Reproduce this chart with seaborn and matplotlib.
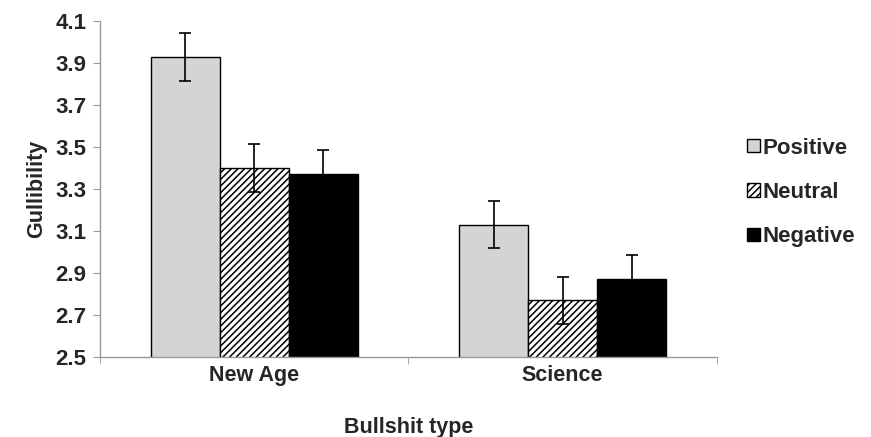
import matplotlib
matplotlib.use("Agg")
import matplotlib.pyplot as plt
import pandas as pd
import seaborn as sns

# values
bullshit_types = ["New Age", "Science"]
moods = ["Positive", "Neutral", "Negative"]
gullibility_new_age = [3.93, 3.40, 3.37]
gullibility_science = [3.13, 2.77, 2.87]
sem_new_age = [0.115, 0.115, 0.115]
sem_science = [0.113, 0.113, 0.115]
y_ticks = [2.5, 2.7, 2.9, 3.1, 3.3, 3.5, 3.7, 3.9, 4.1]

df = pd.DataFrame({
    "type": [bullshit_types[0]] * 3 + [bullshit_types[1]] * 3,
    "mood": moods * 2,
    "gullibility": gullibility_new_age + gullibility_science,
    "sem": sem_new_age + sem_science,
})

sns.set_style("white")
plt.rcParams["font.family"] = ["Liberation Sans", "DejaVu Sans"]
plt.rcParams["font.weight"] = "bold"
plt.rcParams["hatch.linewidth"] = 1.1

fig = plt.figure(figsize=(8.71, 4.37), dpi=100)
ax = fig.add_axes([0.115, 0.183, 0.708, 0.769])

colors = {"Positive": "#d4d4d4", "Neutral": "white", "Negative": "black"}
sns.barplot(data=df, x="type", y="gullibility", hue="mood", hue_order=moods,
            order=bullshit_types, palette=colors, width=0.67, errorbar=None,
            edgecolor="black", linewidth=1.0, legend=False, ax=ax)

# hatch the neutral bars
for bar in ax.containers[1]:
    bar.set_hatch("/////")

# error bars at the bar centres
for cont, mood in zip(ax.containers, moods):
    sub = df[df.mood == mood].set_index("type").loc[bullshit_types]
    xs = [b.get_x() + b.get_width() / 2 for b in cont]
    ax.errorbar(xs, sub.gullibility, yerr=sub["sem"], fmt="none",
                ecolor="black", elinewidth=1.2, capsize=4.5, capthick=1.2)

ax.set_ylim(2.5, 4.1)
ax.set_xlim(-0.5, 1.5)
ax.set_yticks(y_ticks)
ax.set_yticklabels([f"{v:.1f}" for v in y_ticks])
ax.set_xticks([-0.5, 0.5, 1.5], minor=True)
ax.tick_params(axis="x", which="major", length=0, pad=6, labelsize=15.5)
ax.tick_params(axis="x", which="minor", length=5, color="#999999", direction="out", bottom=True)
ax.tick_params(axis="y", length=5, color="#999999", direction="out", left=True,
               labelsize=16, pad=5)

for side in ["top", "right"]:
    ax.spines[side].set_visible(False)
for side in ["left", "bottom"]:
    ax.spines[side].set_color("#999999")
    ax.spines[side].set_linewidth(1.0)

ax.set_xlabel("Bullshit type", fontsize=15.5, fontweight="bold", labelpad=22)
ax.set_ylabel("Gullibility", fontsize=15.5, fontweight="bold", labelpad=6)

ax.legend(ax.containers, moods, loc="center left", bbox_to_anchor=(1.035, 0.49),
          frameon=False, fontsize=16, handlelength=0.55, handleheight=0.55,
          handletextpad=0.15, labelspacing=1.05, borderaxespad=0)

fig.savefig("out.png", dpi=100)
